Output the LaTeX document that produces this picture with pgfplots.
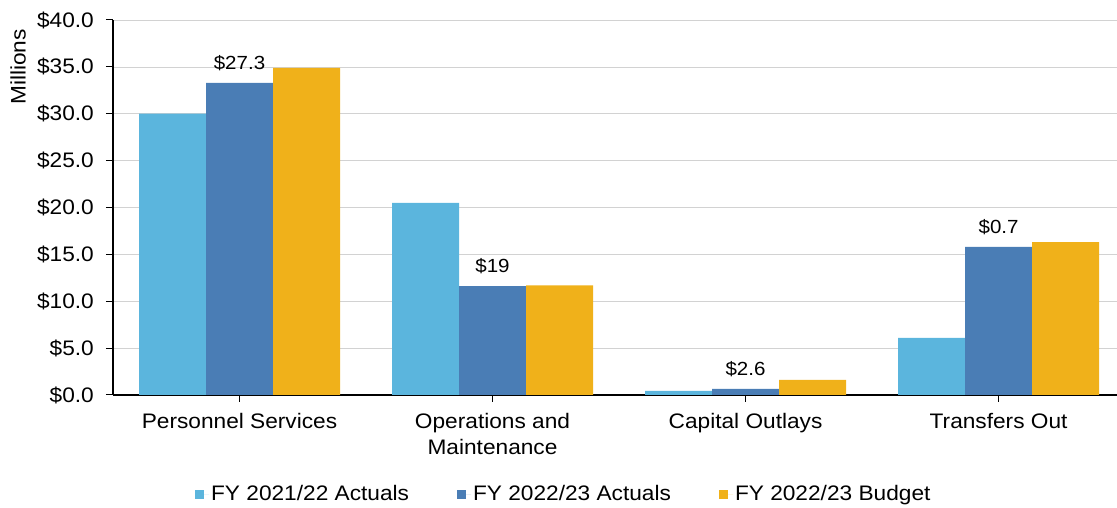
\documentclass[border=0pt]{standalone}
\usepackage{pgfplots}
\pgfplotsset{compat=1.18}
\usepackage{fontspec}
\setmainfont{Liberation Sans}[FakeStretch=1.08]
\definecolor{cA}{HTML}{5BB5DD}
\definecolor{cB}{HTML}{4A7DB5}
\definecolor{cC}{HTML}{F0B11A}
\begin{document}
\fontsize{21}{25}\selectfont
\begin{tikzpicture}
\path[use as bounding box] (-113pt,-113pt) rectangle (1004pt,395pt);
\begin{axis}[
  at={(0pt,0pt)}, anchor=south west,
  scale only axis, width=1004pt, height=375pt,
  ybar=0pt, bar width=67pt,
  xmin=-0.5, xmax=3.468, ymin=0, ymax=40,
  xtick={0,1,2,3},
  xticklabels={Personnel Services, {Operations and\\Maintenance}, Capital Outlays, Transfers Out},
  xticklabel style={align=center, font=\fontsize{21}{26}\selectfont, yshift=-4pt},
  ytick={0,5,...,40},
  yticklabel={\$\pgfmathprintnumber[fixed,fixed zerofill,precision=1]{\tick}},
  yticklabel style={font=\fontsize{21}{25}\selectfont, xshift=-5pt},
  /pgf/number format/assume math mode=true,
  ymajorgrids, grid style={gray!35, line width=0.7pt},
  axis lines*=left,
  axis line style={black, line width=1.3pt, -},
  tick align=outside, major tick length=7pt,
  tick style={black, line width=1pt},
  xtick pos=bottom, ytick pos=left,
  ylabel={Millions},
  ylabel style={at={(axis description cs:-0.0946,0.875)}, anchor=center, font=\fontsize{21}{25}\selectfont},
  legend columns=3,
  legend style={at={(axis description cs:0.449,-0.264)}, anchor=center, draw=none, fill=none,
    font=\fontsize{21}{25}\selectfont,
    /tikz/every even column/.append style={column sep=46pt}},
  legend image code/.code={\fill[#1] (0pt,-4.5pt) rectangle (9pt,4.5pt); \path (0pt,0pt) -- (14pt,0pt);},
]
\addplot[fill=cA, draw=none] coordinates {(0,30.0) (1,20.5) (2,0.45) (3,6.1)};
\addplot[fill=cB, draw=none,
  nodes near coords={\$\pgfplotspointmeta}, point meta=explicit symbolic,
  every node near coord/.append style={font=\fontsize{19}{23}\selectfont, black, yshift=5pt}]
  table[meta=lab] {
x y lab
0 33.3 27.3
1 11.6 19
2 0.65 2.6
3 15.8 0.7
};
\addplot[fill=cC, draw=none] coordinates {(0,34.9) (1,11.7) (2,1.6) (3,16.3)};
\legend{FY 2021/22 Actuals, FY 2022/23 Actuals, FY 2022/23 Budget}
\end{axis}
\end{tikzpicture}
\end{document}
